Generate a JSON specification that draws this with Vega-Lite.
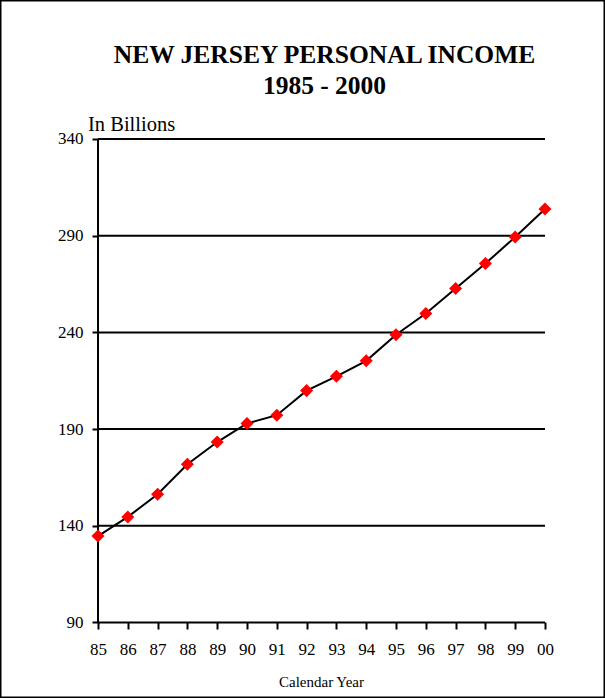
{
  "$schema": "https://vega.github.io/schema/vega-lite/v6.json",
  "width": 605,
  "height": 698,
  "autosize": {"type": "none"},
  "padding": 0,
  "background": "white",
  "config": {
    "view": {"stroke": "black", "strokeWidth": 3},
    "font": "Liberation Serif"
  },
  "title": {
    "text": ["NEW JERSEY PERSONAL INCOME", "1985 - 2000"],
    "font": "Liberation Serif",
    "fontSize": 25.5,
    "fontWeight": "bold",
    "color": "black",
    "anchor": "middle",
    "frame": "group",
    "lineHeight": 31,
    "offset": 0,
    "dy": 99,
    "dx": 22
  },
  "datasets": {
    "income": [
      {"year": 1985, "value": 134.7},
      {"year": 1986, "value": 144.6},
      {"year": 1987, "value": 156.3},
      {"year": 1988, "value": 171.8},
      {"year": 1989, "value": 183.3},
      {"year": 1990, "value": 192.9},
      {"year": 1991, "value": 197.2},
      {"year": 1992, "value": 209.9},
      {"year": 1993, "value": 217.3},
      {"year": 1994, "value": 225.3},
      {"year": 1995, "value": 238.8},
      {"year": 1996, "value": 249.8},
      {"year": 1997, "value": 262.7},
      {"year": 1998, "value": 275.6},
      {"year": 1999, "value": 289.3},
      {"year": 2000, "value": 303.8}
    ],
    "grid": [
      {"level": 140},
      {"level": 190},
      {"level": 240},
      {"level": 290},
      {"level": 340}
    ],
    "single": [{"label": "In Billions"}]
  },
  "layer": [
    {
      "data": {"name": "grid"},
      "mark": {"type": "rule", "color": "black", "strokeWidth": 2},
      "encoding": {
        "y": {"field": "level", "type": "quantitative", "scale": {"domain": [50.96, 411.87], "nice": false, "zero": false},
          "axis": {
            "orient": "left", "offset": -98, "values": [90, 140, 190, 240, 290, 340],
            "domain": false, "grid": false, "tickSize": 6, "tickColor": "black", "tickWidth": 2,
            "labelFont": "Liberation Serif", "labelFontSize": 17, "labelColor": "black", "labelPadding": 9,
            "title": null
          }},
        "x": {"datum": 1985, "type": "quantitative", "scale": {"domain": [1981.711, 2002.013], "nice": false, "zero": false},
          "axis": {
            "orient": "bottom", "offset": -76,
            "values": [1985,1986,1987,1988,1989,1990,1991,1992,1993,1994,1995,1996,1997,1998,1999,2000],
            "labelExpr": "slice(toString(datum.value), 2)",
            "domain": false, "grid": false, "tickSize": 7, "tickColor": "black", "tickWidth": 2,
            "labelFont": "Liberation Serif", "labelFontSize": 17, "labelColor": "black", "labelPadding": 12,
            "title": "Calendar Year", "titleFont": "Liberation Serif", "titleFontSize": 15, "titleFontWeight": "normal",
            "titleColor": "black", "titleX": 321, "titlePadding": 17
          }},
        "x2": {"datum": 2000}
      }
    },
    {
      "data": {"name": "single"},
      "mark": {"type": "rule", "color": "black", "strokeWidth": 2},
      "encoding": {
        "x": {"datum": 1985, "type": "quantitative"},
        "y": {"datum": 90, "type": "quantitative"},
        "y2": {"datum": 340}
      }
    },
    {
      "data": {"name": "single"},
      "mark": {"type": "rule", "color": "black", "strokeWidth": 2},
      "encoding": {
        "x": {"datum": 1985, "type": "quantitative"},
        "x2": {"datum": 2000},
        "y": {"datum": 90, "type": "quantitative"}
      }
    },
    {
      "data": {"name": "single"},
      "mark": {"type": "text", "font": "Liberation Serif", "fontSize": 20.5, "color": "black", "align": "left", "baseline": "alphabetic", "dx": -10, "dy": -8},
      "encoding": {
        "text": {"field": "label"},
        "x": {"datum": 1985, "type": "quantitative"},
        "y": {"datum": 340, "type": "quantitative"}
      }
    },
    {
      "data": {"name": "income"},
      "mark": {"type": "line", "color": "black", "strokeWidth": 2},
      "encoding": {
        "x": {"field": "year", "type": "quantitative"},
        "y": {"field": "value", "type": "quantitative"}
      }
    },
    {
      "data": {"name": "income"},
      "mark": {"type": "point", "shape": "diamond", "filled": true, "color": "#ff0000", "size": 170, "opacity": 1},
      "encoding": {
        "x": {"field": "year", "type": "quantitative"},
        "y": {"field": "value", "type": "quantitative"}
      }
    }
  ]
}
